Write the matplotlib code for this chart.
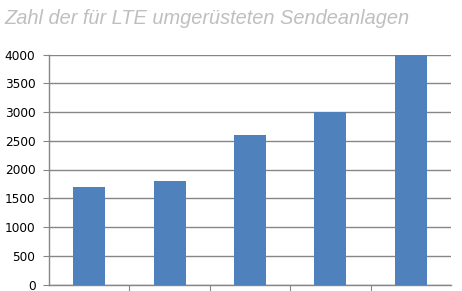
import matplotlib
matplotlib.use("Agg")
import matplotlib.pyplot as plt
import numpy as np

# Werte
kategorien = ["1", "2", "3", "4", "5"]
anlagen = [1700, 1800, 2600, 3000, 4000]
y_ticks = [0, 500, 1000, 1500, 2000, 2500, 3000, 3500, 4000]

fig = plt.figure(figsize=(4.62, 2.91), dpi=100)
ax = fig.add_axes([49/462, 6.5/291, 402/462, 230/291])

x = np.arange(len(kategorien))
ax.bar(x, anlagen, width=0.4, color="#4f81bd", zorder=3)

ax.set_xlim(-0.5, len(kategorien) - 0.5)
ax.set_ylim(0, 4000)
ax.set_yticks(y_ticks)
ax.set_yticklabels([str(v) for v in y_ticks], family="DejaVu Sans", fontsize=8.7)

# Trennstriche zwischen den Kategorien, keine Beschriftung
ax.set_xticks(np.arange(0.5, len(kategorien) - 0.5, 1.0))
ax.set_xticklabels([])
ax.tick_params(axis="x", direction="out", length=5, color="#868686")
ax.tick_params(axis="y", direction="out", length=4.3, color="#868686", pad=5.5)

ax.grid(axis="y", color="#868686", linewidth=1, zorder=0)
for side in ["top", "right"]:
    ax.spines[side].set_visible(False)
ax.spines["left"].set_color("#868686")
ax.spines["bottom"].set_color("#868686")
ax.spines["left"].set_linewidth(1)
ax.spines["bottom"].set_linewidth(1)

fig.text(4/462, 1 - 19/291, "Zahl der für LTE umgerüsteten Sendeanlagen",
         family="Liberation Sans", style="italic", fontsize=14.4,
         color="#bfbfbf", va="center", ha="left")

fig.savefig("out.png", dpi=100)
